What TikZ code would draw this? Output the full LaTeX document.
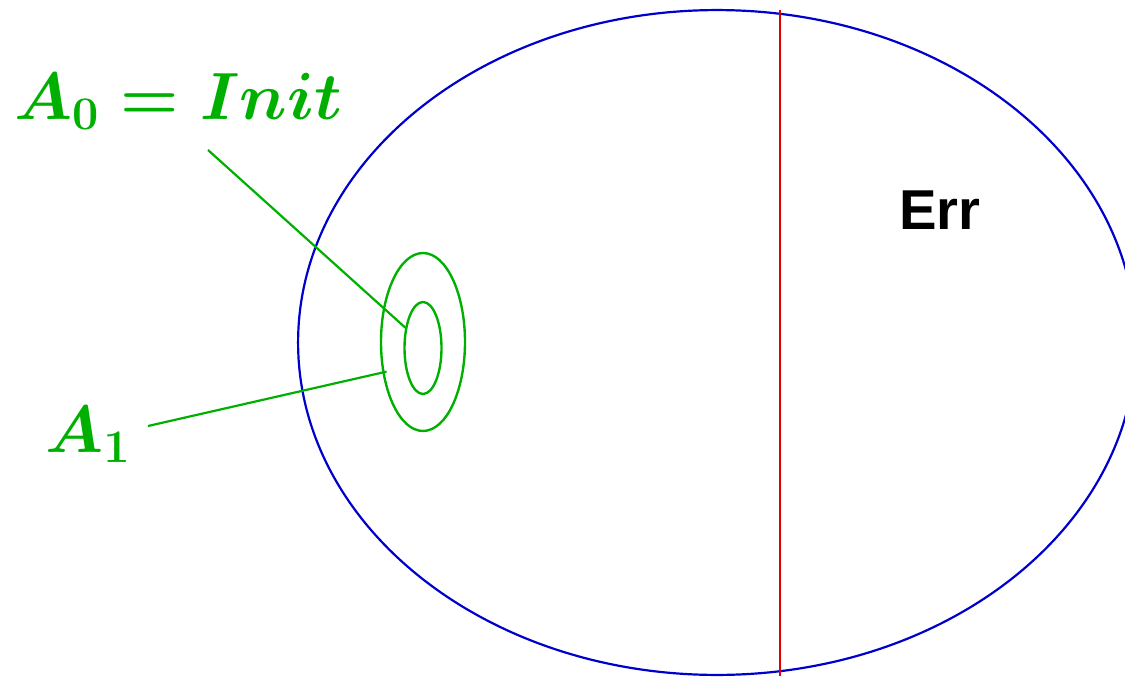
\RequirePackage{fix-cm}
\documentclass[tikz,border=0pt]{standalone}
\usepackage{fontspec}
\newfontfamily\errfont{Liberation Sans}
\usepackage{tikz}
\usetikzlibrary{shapes.geometric, positioning}
\definecolor{setblue}{HTML}{0000CC}
\definecolor{setgreen}{HTML}{00B000}
\definecolor{setred}{HTML}{E00000}

\begin{document}
\begin{tikzpicture}[
  x=0.02cm, y=-0.02cm,
  region/.style={ellipse, draw=setblue, line width=1.25pt, inner sep=0pt},
  approx/.style={ellipse, draw=setgreen, line width=1.35pt, inner sep=0pt},
  label/.style={text=setgreen, font=\fontsize{38}{41}\selectfont\boldmath},
  pointer/.style={draw=setgreen, line width=1.25pt},
  border/.style={draw=setred, line width=1.25pt}
]
  \useasboundingbox (0,0) rectangle (1125,676);

  \node[region, minimum width=16.76cm, minimum height=13.3cm] (space) at (717,342.5) {};
  \node[approx, minimum width=1.68cm, minimum height=3.56cm] (a1) at (423,342) {};
  \node[approx, minimum width=0.74cm, minimum height=1.84cm] (a0) at (423,348) {};

  \node[font=\errfont\bfseries\fontsize{32}{35}\selectfont] (err) at (940,210) {Err};

  \node[label] (lab0) at (178,101) {$A_{\mathbf{0}} = Init$};
  \node[label] (lab1) at (88,435) {$A_{\mathbf{1}}$};

  \coordinate (p0) at (208,150);
  \coordinate (p1) at (148,426);
  \coordinate (rtop) at (780,10);
  \coordinate (rbot) at (780,676);

  \draw[border] (rtop) -- (rbot);
  \draw[pointer] (p0) -- (a0.131);
  \draw[pointer] (p1) -- ([shift={(4,-2)}]a1.218);
\end{tikzpicture}
\end{document}
